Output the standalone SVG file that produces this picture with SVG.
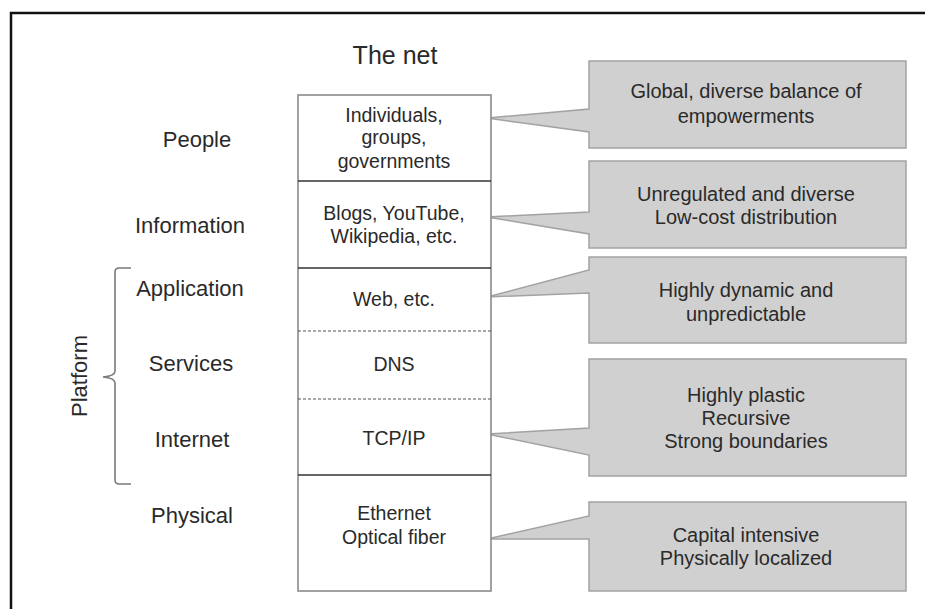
<svg xmlns="http://www.w3.org/2000/svg" width="925" height="609" viewBox="0 0 925 609">
  <style>
    text { font-family: "Liberation Sans", Arial, Helvetica, sans-serif; fill: #2a2a2a; text-anchor: middle; }
    .title { font-size: 25px; }
    .layer { font-size: 22px; }
    .cell { font-size: 19.5px; }
    .note { font-size: 20px; }
    .callout { fill: #d0d0d0; stroke: #a2a2a2; stroke-width: 1.5; stroke-linejoin: miter; }
    .stack { fill: #ffffff; stroke: #8a8a8a; stroke-width: 1.6; }
    .solid { stroke: #333333; stroke-width: 1.5; fill: none; }
    .dash { stroke: #555555; stroke-width: 1.2; stroke-dasharray: 3 2; fill: none; }
    .brace { stroke: #7a7a7a; stroke-width: 1.6; fill: none; }
  </style>

  <!-- outer frame -->
  <rect x="11" y="13" width="940" height="620" fill="none" stroke="#111111" stroke-width="2.5"/>

  <text class="title" x="395" y="64">The net</text>

  <!-- layer names on the left -->
  <g id="layer-labels">
    <text class="layer" x="197" y="147">People</text>
    <text class="layer" x="190" y="233">Information</text>
    <text class="layer" x="190" y="296">Application</text>
    <text class="layer" x="191" y="371">Services</text>
    <text class="layer" x="192" y="447">Internet</text>
    <text class="layer" x="192" y="523">Physical</text>
  </g>

  <!-- platform brace -->
  <g id="platform">
    <path class="brace" d="M131,268 H119 Q115,268 115,272 V371 Q115,376 103,377 Q115,378 115,383 V480 Q115,484 119,484 H131"/>
    <text class="layer" transform="translate(87,376) rotate(-90)" x="0" y="0">Platform</text>
  </g>

  <!-- callouts (drawn before the stack so tails meet the column edge) -->
  <g id="callouts">
    <g id="callout-people">
      <path class="callout" d="M589,61 H906 V148 H589 V132 L487,118 L589,109 Z"/>
      <text class="note" x="746" y="98">Global, diverse balance of</text>
      <text class="note" x="746" y="123">empowerments</text>
    </g>
    <g id="callout-information">
      <path class="callout" d="M589,161 H906 V248 H589 V234 L487,217 L589,212 Z"/>
      <text class="note" x="746" y="201">Unregulated and diverse</text>
      <text class="note" x="746" y="224">Low-cost distribution</text>
    </g>
    <g id="callout-application">
      <path class="callout" d="M589,257 H906 V343 H589 V293 L487,297 L589,270 Z"/>
      <text class="note" x="746" y="297">Highly dynamic and</text>
      <text class="note" x="746" y="321">unpredictable</text>
    </g>
    <g id="callout-internet">
      <path class="callout" d="M589,359 H906 V476 H589 V455 L487,434 L589,428 Z"/>
      <text class="note" x="746" y="402">Highly plastic</text>
      <text class="note" x="746" y="425">Recursive</text>
      <text class="note" x="746" y="448">Strong boundaries</text>
    </g>
    <g id="callout-physical">
      <path class="callout" d="M589,502 H906 V591 H589 V539 L487,539 L589,516 Z"/>
      <text class="note" x="746" y="542">Capital intensive</text>
      <text class="note" x="746" y="565">Physically localized</text>
    </g>
  </g>

  <!-- the layered stack -->
  <g id="stack">
    <rect class="stack" x="298" y="95" width="193" height="496"/>
    <line class="solid" x1="298" y1="181" x2="491" y2="181"/>
    <line class="solid" x1="298" y1="268" x2="491" y2="268"/>
    <line class="dash" x1="298" y1="331" x2="491" y2="331"/>
    <line class="dash" x1="298" y1="399" x2="491" y2="399"/>
    <line class="solid" x1="298" y1="475" x2="491" y2="475"/>

    <g id="cell-people">
      <text class="cell" x="394" y="122">Individuals,</text>
      <text class="cell" x="394" y="144">groups,</text>
      <text class="cell" x="394" y="168">governments</text>
    </g>
    <g id="cell-information">
      <text class="cell" x="394" y="220">Blogs, YouTube,</text>
      <text class="cell" x="394" y="243">Wikipedia, etc.</text>
    </g>
    <g id="cell-application">
      <text class="cell" x="394" y="306">Web, etc.</text>
    </g>
    <g id="cell-services">
      <text class="cell" x="394" y="371">DNS</text>
    </g>
    <g id="cell-internet">
      <text class="cell" x="394" y="445">TCP/IP</text>
    </g>
    <g id="cell-physical">
      <text class="cell" x="394" y="520">Ethernet</text>
      <text class="cell" x="394" y="544">Optical fiber</text>
    </g>
  </g>
</svg>
